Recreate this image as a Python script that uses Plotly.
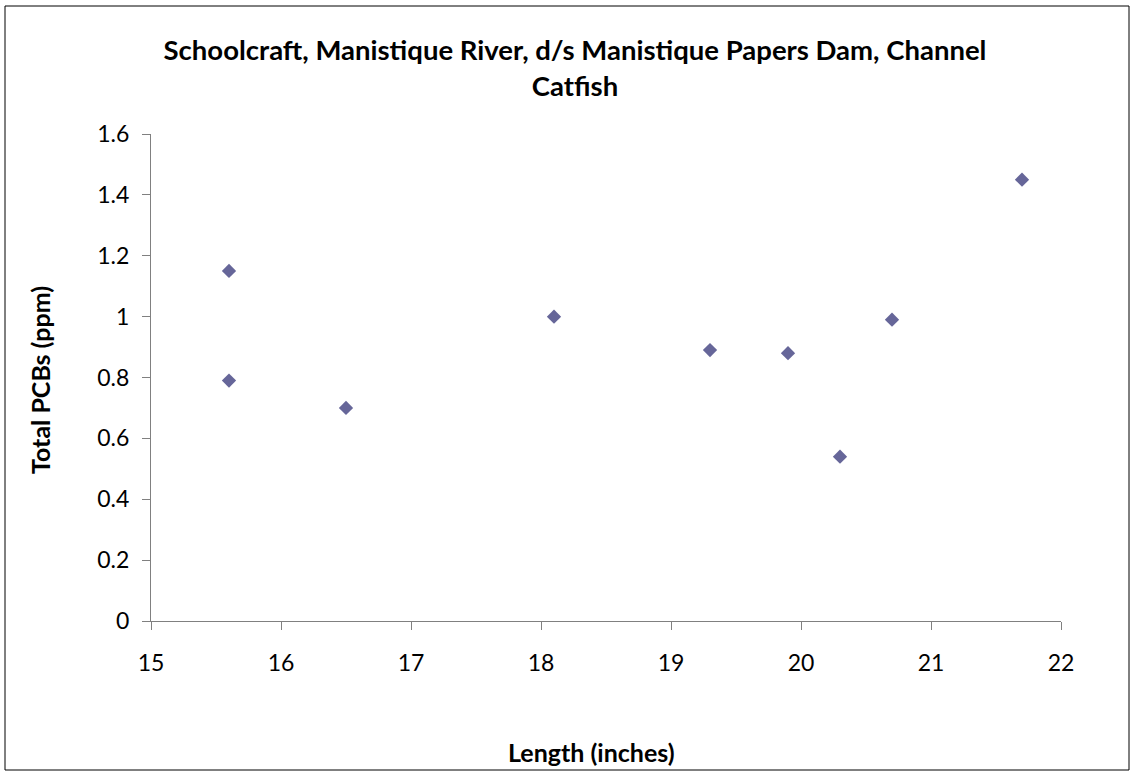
import plotly.graph_objects as go

# Channel catfish, Manistique River d/s Manistique Papers Dam
length_in = [15.6, 15.6, 16.5, 18.1, 19.3, 19.9, 20.3, 20.7, 21.7]
pcb_ppm = [1.15, 0.79, 0.70, 1.00, 0.89, 0.88, 0.54, 0.99, 1.45]

x_ticks = [15, 16, 17, 18, 19, 20, 21, 22]
y_ticks = [0, 0.2, 0.4, 0.6, 0.8, 1, 1.2, 1.4, 1.6]

FONT = "Lato, Calibri, sans-serif"
W, H = 1135, 776
L, R, T, B = 151, 74, 134, 155
pw, ph = W - L - R, H - T - B

fig = go.Figure()

fig.add_trace(go.Scatter(
    x=length_in,
    y=pcb_ppm,
    mode='markers',
    marker=dict(symbol='diamond', size=11, color='#666699'),
    showlegend=False,
    hovertemplate='%{x} in<br>%{y} ppm<extra></extra>'
))

axis_style = dict(
    showgrid=False,
    zeroline=False,
    showline=True,
    linecolor='#808080',
    linewidth=1,
    ticks='outside',
    ticklen=8,
    tickcolor='#808080',
    tickfont=dict(family=FONT, size=23, color='black'),
)

fig.update_layout(
    width=W, height=H,
    margin=dict(l=L, r=R, t=T, b=B),
    paper_bgcolor='white',
    plot_bgcolor='white',
    title=dict(
        text='<b>Schoolcraft, Manistique River, d/s Manistique Papers Dam, Channel<br>Catfish</b>',
        x=575 / W, xanchor='center', xref='container',
        y=1 - 60 / H, yanchor='middle', yref='container',
        font=dict(family=FONT, size=27.5, color='black')
    ),
    xaxis=dict(range=[15, 22], tickvals=x_ticks, ticklabelstandoff=13, **axis_style),
    yaxis=dict(range=[0, 1.6], tickvals=y_ticks, ticklabelstandoff=8, **axis_style),
    annotations=[
        dict(text='<b>Length (inches)</b>', xref='paper', yref='paper',
             x=(591 - L) / pw, y=-(752 - (H - B)) / ph, xanchor='center', yanchor='middle',
             showarrow=False, font=dict(family=FONT, size=25, color='black')),
        dict(text='<b>Total PCBs (ppm)</b>', xref='paper', yref='paper',
             x=-(L - 40) / pw, y=(H - B - 380) / ph, xanchor='center', yanchor='middle',
             textangle=-90, showarrow=False,
             font=dict(family=FONT, size=25, color='black')),
    ],
    shapes=[
        # chart area border
        dict(type='rect', xref='paper', yref='paper',
             x0=(5 - L) / pw, x1=(1129 - L) / pw,
             y0=-(770 - (H - B)) / ph, y1=(H - B - 6) / ph,
             line=dict(color='black', width=1), layer='below')
    ],
)

# page body has a default 8px margin; drop it so the figure sits at the corner
fig.write_html("out.html", config={'displayModeBar': False},
               post_script="document.body.style.margin='0';")
